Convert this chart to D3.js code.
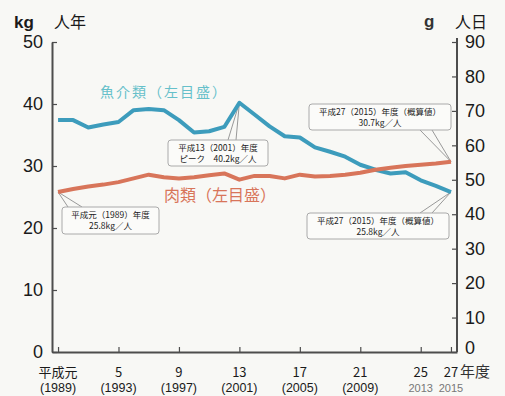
<!DOCTYPE html>
<html>
<head>
<meta charset="utf-8">
<script src="https://cdn.jsdelivr.net/npm/d3@7"></script>
<style>
  body { margin: 0; background: #f8f8f5; }
  svg { display: block; }
  text { font-family: "Liberation Sans", Arial, sans-serif; }
  .jp { font-family: "Noto Sans CJK JP", sans-serif; }
</style>
</head>
<body>
<svg width="505" height="396"></svg>
<script>
var years = [1989, 1990, 1991, 1992, 1993, 1994, 1995, 1996, 1997, 1998, 1999, 2000, 2001,
             2002, 2003, 2004, 2005, 2006, 2007, 2008, 2009, 2010, 2011, 2012, 2013, 2014, 2015];
var fish = [37.4, 37.4, 36.2, 36.7, 37.1, 39.0, 39.2, 39.0, 37.4, 35.4, 35.6, 36.3, 40.2,
            38.3, 36.4, 34.8, 34.6, 33.0, 32.3, 31.5, 30.2, 29.4, 28.8, 29.0, 27.7, 26.8, 25.8];
var meat = [25.8, 26.3, 26.7, 27.0, 27.4, 28.0, 28.6, 28.2, 28.0, 28.2, 28.5, 28.8, 27.8,
            28.4, 28.4, 28.0, 28.6, 28.3, 28.4, 28.6, 28.9, 29.4, 29.7, 30.0, 30.2, 30.4, 30.7];
var tickYears = [1989, 1993, 1997, 2001, 2005, 2009, 2013, 2015];
var tickHeisei = ["平成元", "5", "9", "13", "17", "21", "25", "27"];
var tickSeireki = ["(1989)", "(1993)", "(1997)", "(2001)", "(2005)", "(2009)", "2013", "2015"];
var leftTicks = [0, 10, 20, 30, 40, 50];
var rightTicks = [0, 10, 20, 30, 40, 50, 60, 70, 80, 90];

var svg = d3.select("svg");
var axisColor = "#4d4d4d";

var x = d3.scaleLinear().domain([1988.6, 2015.4]).range([52, 457]);
var y = d3.scaleLinear().domain([0, 50]).range([352, 42]);
var y2 = d3.scaleLinear().domain([0, 90]).range([352, 42]);

// axes
var gl = svg.append("g").attr("transform", "translate(52,0)")
    .call(d3.axisLeft(y).tickValues(leftTicks).tickSize(-5).tickSizeOuter(0).tickPadding(9));
var gr = svg.append("g").attr("transform", "translate(457,0)")
    .call(d3.axisRight(y2).tickValues(rightTicks).tickSize(-5).tickSizeOuter(0).tickPadding(8));
var gb = svg.append("g").attr("transform", "translate(0,352)")
    .call(d3.axisBottom(x).tickValues(tickYears).tickSize(-5).tickSizeOuter(0).tickFormat(""));

[gl, gr, gb].forEach(function (g) {
  g.select(".domain").attr("stroke", axisColor).attr("stroke-width", 2);
  g.selectAll(".tick line").attr("stroke", axisColor).attr("stroke-width", 1.2);
  g.selectAll(".tick text").attr("fill", "#1a1a1a").style("font-size", "18px");
});
gr.select(".domain").attr("d", "M0,38V352");
// right "0" sits a little high so it clears 年度
gr.selectAll(".tick text").filter(function (d) { return d === 0; }).attr("dy", "0.1em");

// x labels
tickYears.forEach(function (yr, i) {
  svg.append("text").attr("class", "jp")
    .attr("x", x(yr)).attr("y", 377)
    .attr("text-anchor", "middle")
    .style("font-size", "13px").attr("fill", "#1a1a1a")
    .text(tickHeisei[i]);
  svg.append("text")
    .attr("x", x(yr)).attr("y", 392)
    .attr("text-anchor", "middle")
    .style("font-size", i >= 6 ? "11px" : "12.5px")
    .attr("fill", i >= 6 ? "#777" : "#1a1a1a")
    .text(tickSeireki[i]);
});
svg.append("text").attr("class", "jp").attr("x", 460).attr("y", 377)
  .style("font-size", "15px").attr("fill", "#333").text("年度");

// unit labels
svg.append("text").attr("x", 14).attr("y", 28).style("font-size", "17px")
  .style("font-weight", "bold").attr("fill", "#1a1a1a").text("kg");
svg.append("text").attr("class", "jp").attr("x", 54).attr("y", 28).style("font-size", "16px")
  .attr("fill", "#1a1a1a").text("人年");
svg.append("text").attr("x", 424).attr("y", 27).style("font-size", "17px")
  .style("font-weight", "bold").attr("fill", "#333").text("g");
svg.append("text").attr("class", "jp").attr("x", 455).attr("y", 28).style("font-size", "16px")
  .attr("fill", "#1a1a1a").text("人日");

// callouts (drawn under lines)
function callout(bx, by, bw, bh, px1, px2, side, tx, ty, lines) {
  var g = svg.append("g");
  var base = side === "top" ? by : by + bh;
  g.append("path")
    .attr("d", "M" + px1 + "," + base + "L" + tx + "," + ty + "L" + px2 + "," + base)
    .attr("fill", "none").attr("stroke", "#999").attr("stroke-width", 1);
  g.append("rect").attr("x", bx).attr("y", by).attr("width", bw).attr("height", bh)
    .attr("rx", 3).attr("fill", "#fbfbf9").attr("stroke", "#aaa").attr("stroke-width", 1);
  lines.forEach(function (t, i) {
    g.append("text").attr("class", "jp")
      .attr("x", bx + bw / 2).attr("y", by + 10.5 + i * 11.5)
      .attr("text-anchor", "middle").style("font-size", "8.5px")
      .attr("fill", "#222").text(t);
  });
}

var iPeak = years.indexOf(2001), iLast = years.length - 1;
callout(168, 140, 100, 26, 228, 236, "top", x(2001), y(fish[iPeak]),
  ["平成13（2001）年度", "ピーク　40.2kg／人"]);
callout(309, 104, 142, 26, 420, 432, "bottom", x(2015), y(meat[iLast]),
  ["平成27（2015）年度（概算値）", "30.7kg／人"]);
callout(62, 207, 97, 27, 68, 82, "top", x(1989), y(meat[0]),
  ["平成元（1989）年度", "25.8kg／人"]);
callout(307, 213, 142, 26, 420, 432, "top", x(2015), y(fish[iLast]),
  ["平成27（2015）年度（概算値）", "25.8kg／人"]);

// lines
var line = d3.line().x(function (d, i) { return x(years[i]); }).y(function (d) { return y(d); });
svg.append("path").datum(fish).attr("d", line)
  .attr("fill", "none").attr("stroke", "#3d9cbc").attr("stroke-width", 4)
  .attr("stroke-linejoin", "round");
svg.append("path").datum(meat).attr("d", line)
  .attr("fill", "none").attr("stroke", "#d8755a").attr("stroke-width", 4)
  .attr("stroke-linejoin", "round");

// series labels
svg.append("text").attr("class", "jp").attr("x", 100).attr("y", 97)
  .style("font-size", "14px").style("letter-spacing", "2px")
  .attr("fill", "#66c0ca").text("魚介類（左目盛）");
svg.append("text").attr("class", "jp").attr("x", 164).attr("y", 201)
  .style("font-size", "16px").attr("fill", "#d8755a").text("肉類（左目盛）");
</script>
</body>
</html>
